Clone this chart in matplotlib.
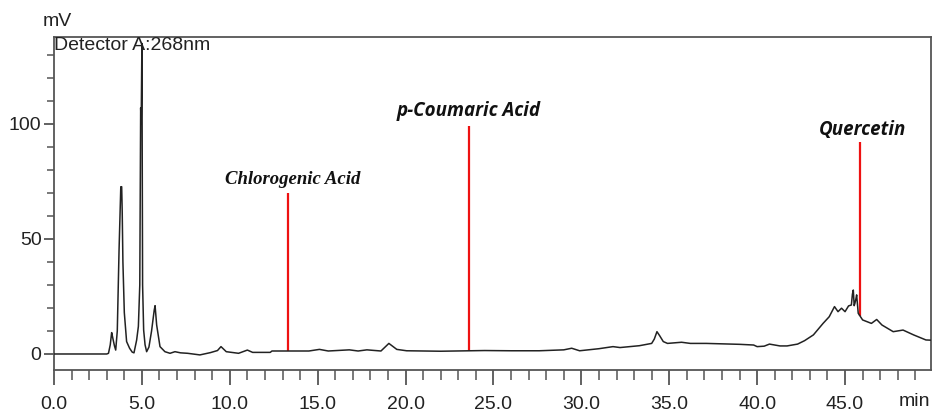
import matplotlib
matplotlib.use("Agg")
import matplotlib.pyplot as plt
import numpy as np
from matplotlib.ticker import MultipleLocator, FixedLocator

# Chromatogram trace (time in min, signal in mV)
time_min = [0.0, 3.0, 3.1, 3.2, 3.28, 3.33, 3.37, 3.44, 3.51, 3.6, 3.7, 3.8, 3.85, 3.88, 3.92,
            4.0, 4.13, 4.3, 4.45, 4.55, 4.7, 4.8, 4.88, 4.93, 4.96, 5.0, 5.04, 5.1, 5.18, 5.27,
            5.4, 5.55, 5.7, 5.75, 5.84, 6.03, 6.31, 6.6, 6.88, 7.2, 7.6, 8.3, 8.9, 9.3, 9.5,
            9.8, 10.5, 11.0, 11.3, 12.3, 12.4, 14.5, 15.1, 15.6, 16.8, 17.3, 17.8, 18.6, 19.05,
            19.5, 20.06, 22.0, 24.5, 26.0, 27.6, 29.0, 29.45, 29.9, 31.0, 31.8, 32.2, 33.3, 34.0,
            34.15, 34.3, 34.45, 34.66, 34.9, 35.7, 36.2, 37.1, 39.0, 39.8, 40.0, 40.4, 40.7, 41.3,
            41.7, 42.0, 42.3, 42.7, 43.2, 43.75, 44.1, 44.4, 44.6, 44.8, 45.0, 45.2, 45.36, 45.42,
            45.47, 45.52, 45.56, 45.62, 45.66, 45.75, 46.0, 46.5, 46.8, 47.1, 47.74, 48.3, 48.9,
            49.6, 49.9]
signal_mv = [0.0, 0.0, 0.3, 4.0, 9.3, 7.5, 6.0, 3.5, 1.7, 10.0, 45.0, 72.7, 72.7, 62.0, 40.0,
             18.0, 5.4, 2.5, 0.8, 0.5, 6.0, 12.0, 30.0, 107.0, 100.0, 135.0, 30.0, 10.4, 4.0, 1.0,
             3.0, 10.0, 19.0, 21.0, 12.6, 3.2, 1.0, 0.3, 1.0, 0.5, 0.3, -0.4, 0.6, 1.5, 3.2,
             1.0, 0.3, 1.7, 0.7, 0.7, 1.3, 1.3, 2.0, 1.3, 1.8, 1.3, 1.8, 1.3, 4.6,
             2.0, 1.4, 1.2, 1.5, 1.4, 1.4, 1.8, 2.5, 1.4, 2.3, 3.2, 2.8, 3.6, 4.6,
             6.5, 9.7, 8.0, 5.4, 4.6, 5.1, 4.6, 4.6, 4.2, 3.9, 3.2, 3.4, 4.3, 3.5,
             3.5, 3.9, 4.3, 5.8, 8.3, 13.3, 16.2, 20.6, 18.4, 19.9, 18.4, 20.9, 21.3, 26.0,
             27.8, 21.0, 22.0, 24.0, 25.7, 17.7, 14.8, 13.3, 15.0, 12.6, 9.7, 10.4, 8.3,
             6.1, 6.0]

# Marked compounds
compound_names = ["Chlorogenic Acid", "p-Coumaric Acid", "Quercetin"]
compound_times = [13.3, 23.6, 45.85]
marker_tops = [70.0, 99.0, 92.0]
label_times = [13.57, 23.6, 46.0]
label_levels = [76.0, 105.8, 97.4]

x_major_ticks = [0, 5, 10, 15, 20, 25, 30, 35, 40, 45]
x_tick_labels = ["0.0", "5.0", "10.0", "15.0", "20.0", "25.0", "30.0", "35.0", "40.0", "45.0"]
y_major_ticks = [0, 50, 100]

plt.rcParams['font.family'] = ['Liberation Sans', 'DejaVu Sans']

fig = plt.figure(figsize=(9.34, 4.13), dpi=100)
ax = fig.add_axes([54/934, 1-370/413, (931-54)/934, (370-37)/413])

ax.plot(time_min, signal_mv, color="#222222", lw=1.1, zorder=3)

t_arr = np.array(time_min)
s_arr = np.array(signal_mv)
for t, top in zip(compound_times, marker_tops):
    bottom = np.interp(t, t_arr, s_arr)
    ax.vlines(t, bottom, top, color="#ee1111", lw=1.6, zorder=2)

label_fonts = [
    dict(family=['Liberation Serif', 'DejaVu Serif'], style='italic', weight='bold', size=13.5),
    dict(family=['Open Sans', 'DejaVu Sans'], style='italic', weight='bold', size=13.5),
    dict(family=['Open Sans', 'DejaVu Sans'], style='italic', weight='bold', size=13.5),
]
for name, t, lv, fd in zip(compound_names, label_times, label_levels, label_fonts):
    ax.text(t, lv, name, ha='center', va='center', color='#111111', **fd)

ax.set_xlim(0, 49.89)
ax.set_ylim(-6.96, 137.8)

ax.xaxis.set_major_locator(FixedLocator(x_major_ticks))
ax.set_xticklabels(x_tick_labels)
ax.xaxis.set_minor_locator(MultipleLocator(1))
ax.yaxis.set_major_locator(FixedLocator(y_major_ticks))
ax.yaxis.set_minor_locator(MultipleLocator(10))

spine_c = "#555555"
for sp in ax.spines.values():
    sp.set_color(spine_c)
    sp.set_linewidth(1.3)

ax.tick_params(axis='x', which='major', direction='out', length=11, width=1.3,
               color=spine_c, labelsize=14, pad=8, labelcolor='#222222')
ax.tick_params(axis='x', which='minor', direction='out', length=7, width=1.1, color=spine_c)
ax.tick_params(axis='y', which='major', direction='out', length=7, width=1.3,
               color=spine_c, labelsize=14, pad=2, labelcolor='#222222')
ax.tick_params(axis='y', which='minor', direction='out', length=5, width=1.1, color=spine_c)

ax.text(0.0, 1.0, "Detector A:268nm", transform=ax.transAxes, ha='left', va='top',
        fontsize=14, color='#222222')
fig.text(57/934, 1-22/413, "mV", ha='center', va='center', fontsize=14, color='#222222')
fig.text(914/934, 1-402/413, "min", ha='center', va='center', fontsize=14, color='#222222')

fig.savefig("out.png", dpi=100)
